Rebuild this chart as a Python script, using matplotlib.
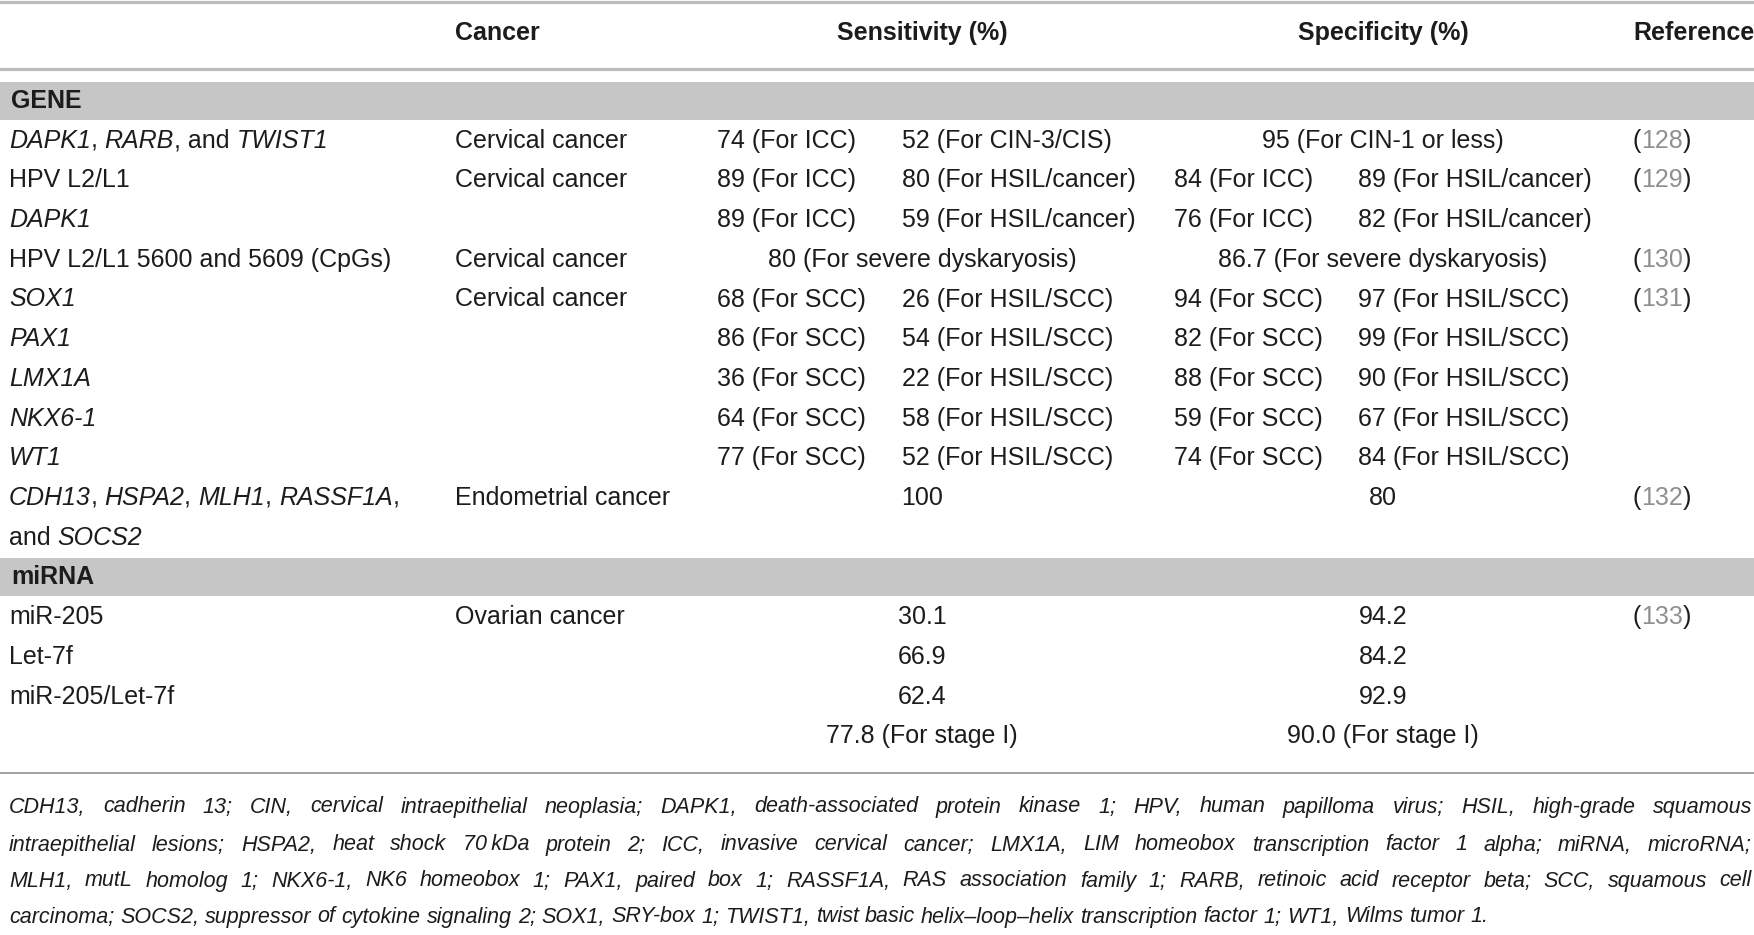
import matplotlib
matplotlib.use("Agg")
import matplotlib.pyplot as plt
from matplotlib.patches import Rectangle

W, H = 1754, 935
FONT = "Liberation Sans"

# ---- table data ----
gene_names = [
    [("DAPK1", True), (", ", False), ("RARB", True), (", and ", False), ("TWIST1", True)],
    [("HPV L2/L1", False)],
    [("DAPK1", True)],
    [("HPV L2/L1 5600 and 5609 (CpGs)", False)],
    [("SOX1", True)],
    [("PAX1", True)],
    [("LMX1A", True)],
    [("NKX6-1", True)],
    [("WT1", True)],
    [("CDH13", True), (", ", False), ("HSPA2", True), (", ", False), ("MLH1", True),
     (", ", False), ("RASSF1A", True), (",", False)],
    [("and ", False), ("SOCS2", True)],
]
gene_cancer = ["Cervical cancer", "Cervical cancer", "", "Cervical cancer", "Cervical cancer",
               "", "", "", "", "Endometrial cancer", ""]
gene_sens = [("74 (For ICC)", "52 (For CIN-3/CIS)"),
             ("89 (For ICC)", "80 (For HSIL/cancer)"),
             ("89 (For ICC)", "59 (For HSIL/cancer)"),
             "80 (For severe dyskaryosis)",
             ("68 (For SCC)", "26 (For HSIL/SCC)"),
             ("86 (For SCC)", "54 (For HSIL/SCC)"),
             ("36 (For SCC)", "22 (For HSIL/SCC)"),
             ("64 (For SCC)", "58 (For HSIL/SCC)"),
             ("77 (For SCC)", "52 (For HSIL/SCC)"),
             "100", ""]
gene_spec = ["95 (For CIN-1 or less)",
             ("84 (For ICC)", "89 (For HSIL/cancer)"),
             ("76 (For ICC)", "82 (For HSIL/cancer)"),
             "86.7 (For severe dyskaryosis)",
             ("94 (For SCC)", "97 (For HSIL/SCC)"),
             ("82 (For SCC)", "99 (For HSIL/SCC)"),
             ("88 (For SCC)", "90 (For HSIL/SCC)"),
             ("59 (For SCC)", "67 (For HSIL/SCC)"),
             ("74 (For SCC)", "84 (For HSIL/SCC)"),
             "80", ""]
gene_ref = ["128", "129", "", "130", "131", "", "", "", "", "132", ""]

mirna_names = [[("miR-205", False)], [("Let-7f", False)], [("miR-205/Let-7f", False)], [("", False)]]
mirna_cancer = ["Ovarian cancer", "", "", ""]
mirna_sens = ["30.1", "66.9", "62.4", "77.8 (For stage I)"]
mirna_spec = ["94.2", "84.2", "92.9", "90.0 (For stage I)"]
mirna_ref = ["133", "", "", ""]

headers = ["Cancer", "Sensitivity (%)", "Specificity (%)", "Reference"]

footnote = [
    "CDH13, cadherin 13; CIN, cervical intraepithelial neoplasia; DAPK1, death-associated protein kinase 1; HPV, human papilloma virus; HSIL, high-grade squamous",
    "intraepithelial lesions; HSPA2, heat shock 70\u2009kDa protein 2; ICC, invasive cervical cancer; LMX1A, LIM homeobox transcription factor 1 alpha; miRNA, microRNA;",
    "MLH1, mutL homolog 1; NKX6-1, NK6 homeobox 1; PAX1, paired box 1; RASSF1A, RAS association family 1; RARB, retinoic acid receptor beta; SCC, squamous cell",
    "carcinoma; SOCS2, suppressor of cytokine signaling 2; SOX1, SRY-box 1; TWIST1, twist basic helix\u2013loop\u2013helix transcription factor 1; WT1, Wilms tumor 1.",
]

# ---- layout ----
X_NAME, X_CANCER, X_REF = 9, 455, 1633
X_SENS = (717, 902)
X_SPEC = (1174, 1358)
C_SENS, C_SPEC = 922, 1383
Y_HEAD = 33
ROW_H = 39.7
BODY = 18
FN_SIZE = 15.5
TXT = "#1c1c1c"

fig = plt.figure(figsize=(W / 100, H / 100), dpi=100)
ax = fig.add_axes([0, 0, 1, 1])
ax.set_xlim(0, W)
ax.set_ylim(H, 0)
ax.axis("off")
renderer = fig.canvas.get_renderer()


def width(s, **kw):
    # measured between two bars so that leading/trailing blanks count
    a = ax.text(0, 0, "|" + s + "|", fontfamily=FONT, **kw)
    b = ax.text(0, 0, "||", fontfamily=FONT, **kw)
    w = a.get_window_extent(renderer).width - b.get_window_extent(renderer).width
    a.remove()
    b.remove()
    return w


def runs(x, y, parts, size=BODY, color=TXT):
    for s, it in parts:
        st = "italic" if it else "normal"
        ax.text(x, y, s, fontsize=size, fontstyle=st, fontfamily=FONT,
                color=color, va="center", ha="left")
        x += width(s, fontsize=size, fontstyle=st)


def cell(x, y, s, ha="left", weight="normal", size=BODY):
    ax.text(x, y, s, fontsize=size, fontfamily=FONT, fontweight=weight,
            color=TXT, va="center", ha=ha)


def table_row(y, name, cancer, sens, spec, ref):
    runs(X_NAME, y, name)
    cell(X_CANCER, y, cancer)
    for val, xs, c in ((sens, X_SENS, C_SENS), (spec, X_SPEC, C_SPEC)):
        if isinstance(val, tuple):
            cell(xs[0], y, val[0])
            cell(xs[1], y, val[1])
        elif val:
            cell(c, y, val, ha="center")
    if ref:
        x = X_REF
        for s, col in (("(", TXT), (ref, "#8f8f8f"), (")", TXT)):
            ax.text(x, y, s, fontsize=BODY, fontfamily=FONT, color=col, va="center")
            x += width(s, fontsize=BODY)


# rules
ax.axhline(1.5, color="#bcbcbc", lw=2.3)
ax.axhline(69, color="#bcbcbc", lw=2.3)
ax.axhline(773, color="#9a9a9a", lw=1.3)

# header
cell(X_CANCER, Y_HEAD, headers[0], weight="bold")
cell(C_SENS, Y_HEAD, headers[1], ha="center", weight="bold")
cell(C_SPEC, Y_HEAD, headers[2], ha="center", weight="bold")
cell(X_REF, Y_HEAD, headers[3], weight="bold")

y = 101
ax.add_patch(Rectangle((0, y - 19), W, 38, color="#c6c6c6", lw=0))
cell(11, y, "GENE", weight="bold")
for i in range(len(gene_names)):
    y += ROW_H
    table_row(y, gene_names[i], gene_cancer[i], gene_sens[i], gene_spec[i], gene_ref[i])

y += ROW_H
ax.add_patch(Rectangle((0, y - 19), W, 38, color="#c6c6c6", lw=0))
cell(11, y, "miRNA", weight="bold")
for i in range(len(mirna_names)):
    y += ROW_H
    table_row(y, mirna_names[i], mirna_cancer[i], mirna_sens[i], mirna_spec[i], mirna_ref[i])

# footnote, justified except for the last line
x0, x1 = 9, 1752
fn_y = [807, 845, 881, 917]
sp = width(" ", fontsize=FN_SIZE, fontstyle="italic")
for k, line in enumerate(footnote):
    words = line.split(" ")
    ws = [width(w, fontsize=FN_SIZE, fontstyle="italic") for w in words]
    gap = sp if k == len(footnote) - 1 else (x1 - x0 - sum(ws)) / (len(words) - 1)
    x = x0
    for w, wd in zip(words, ws):
        ax.text(x, fn_y[k], w, fontsize=FN_SIZE, fontstyle="italic", fontfamily=FONT,
                color=TXT, va="center", ha="left")
        x += wd + gap

fig.savefig("out.png", dpi=100)
